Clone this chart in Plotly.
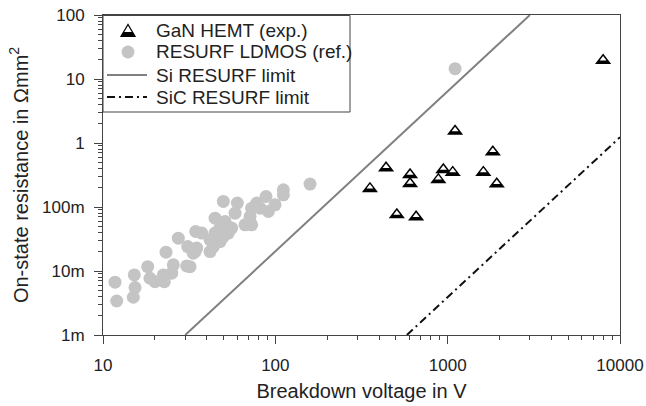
import plotly.graph_objects as go

# GaN HEMT devices: breakdown voltage (V) and on-state resistance (Ohm*mm^2)
gan_v = [354, 439, 507, 605, 605, 656, 883, 944, 1070, 1104, 1611, 1828, 1927, 7980]
gan_r = [0.193, 0.406, 0.0755, 0.319, 0.231, 0.0695, 0.267, 0.382, 0.347, 1.52,
         0.347, 0.723, 0.228, 19.4]

# RESURF LDMOS reference devices
ldmos_v = [11.74, 12.01, 15.19, 15.34, 14.99, 18.17, 18.74, 20.04, 22.69, 22.39,
           25.04, 25.59, 23.21, 27.35, 30.6, 31.98, 31.01, 34.51, 34.2, 37.4,
           159, 111.3, 111.3, 88.3, 99.6, 91.1, 81.5, 78.0, 72.9, 71.3,
           66.7, 72.9, 49.9, 60.2, 58.4, 44.7, 51.1, 47.8, 53.4, 44.7,
           41.8, 47.8, 35.0, 41.8, 33.4, 43.7, 49.9, 55.8, 1104]
ldmos_r = [0.00668, 0.00340, 0.00869, 0.00550, 0.00389, 0.0117, 0.00771, 0.00682, 0.00682, 0.00869,
           0.00924, 0.0125, 0.0197, 0.0326, 0.0120, 0.0117, 0.0241, 0.0414, 0.0201, 0.0391,
           0.228, 0.186, 0.155, 0.146, 0.108, 0.085, 0.096, 0.115, 0.096, 0.071,
           0.0526, 0.0526, 0.122, 0.115, 0.080, 0.067, 0.0593, 0.0468, 0.0391, 0.0391,
           0.0307, 0.0288, 0.0228, 0.0201, 0.0190, 0.0241, 0.0345, 0.0468, 14.5]

# Material limits for RESURF devices
si_v = [30, 3000]
si_r = [1e-3, 100]
sic_v = [580, 10000]
sic_r = [1e-3, 1.23]

x_ticks = [10, 100, 1000, 10000]
x_tick_text = ["10", "100", "1000", "10000"]
y_ticks = [1e-3, 1e-2, 1e-1, 1, 10, 100]
y_tick_text = ["1m", "10m", "100m", "1", "10", "100"]

legend_labels = ["GaN HEMT (exp.)", "RESURF LDMOS (ref.)",
                 "Si RESURF limit", "SiC RESURF limit"]

W, H = 646, 406
M = dict(l=103, r=26, t=15, b=71)
Y_RANGE = [-3, 2]
PW = W - M["l"] - M["r"]
PH = H - M["t"] - M["b"]
px_per_decade = PH / (Y_RANGE[1] - Y_RANGE[0])

FONT = "Liberation Sans, Arial, sans-serif"
INK = "#222222"
AXIS = "#444444"
DOT = "#c4c4c4"
SI_COLOR = "#808080"
SIC_COLOR = "#111111"
SIC_DASH = "8px,4px,2px,4px"


def px(x, y):
    """Pixel position inside the page -> paper coordinates."""
    return (x - M["l"]) / PW, (M["t"] + PH - y) / PH


fig = go.Figure()

fig.add_trace(go.Scatter(
    x=si_v, y=si_r, mode="lines", showlegend=False,
    line=dict(color=SI_COLOR, width=2)))
fig.add_trace(go.Scatter(
    x=sic_v, y=sic_r, mode="lines", showlegend=False,
    line=dict(color=SIC_COLOR, width=2, dash=SIC_DASH)))
fig.add_trace(go.Scatter(
    x=ldmos_v, y=ldmos_r, mode="markers", showlegend=False,
    marker=dict(symbol="circle", size=13, color=DOT, line=dict(width=0))))

# GaN triangles: black body with a white cap over the upper part
fig.add_trace(go.Scatter(
    x=gan_v, y=gan_r, mode="markers", showlegend=False,
    marker=dict(symbol="triangle-up", size=14, color="black", line=dict(width=0))))
cap_shift = 10 ** (1.6 / px_per_decade)
fig.add_trace(go.Scatter(
    x=gan_v, y=[r * cap_shift for r in gan_r], mode="markers", showlegend=False,
    hoverinfo="skip",
    marker=dict(symbol="triangle-up", size=6, color="white", line=dict(width=0))))

# ---- legend box drawn in the upper-left corner of the plot area ----
shapes = []
bx0, by0 = px(103, 112)
bx1, by1 = px(350, 15.5)
shapes.append(dict(type="rect", xref="paper", yref="paper", x0=bx0, y0=by0, x1=bx1, y1=by1,
                   line=dict(color=AXIS, width=1), fillcolor="white", layer="above"))

row_y = [30.5, 52.0, 75.0, 97.0]
icon_x = 128
text_x = 155


def path(points):
    pts = [px(x, y) for x, y in points]
    return "M " + " L ".join(f"{a:.5f},{b:.5f}" for a, b in pts) + " Z"


# triangle icon
ty = row_y[0]
shapes.append(dict(type="path", xref="paper", yref="paper",
                   path=path([(icon_x - 7, ty + 6), (icon_x + 7, ty + 6), (icon_x, ty - 6)]),
                   fillcolor="white", line=dict(color="black", width=1.2), layer="above"))
shapes.append(dict(type="path", xref="paper", yref="paper",
                   path=path([(icon_x - 7, ty + 6), (icon_x + 7, ty + 6),
                              (icon_x + 4.7, ty + 2), (icon_x - 4.7, ty + 2)]),
                   fillcolor="black", line=dict(color="black", width=1), layer="above"))
# circle icon
cx0, cy0 = px(icon_x - 6.5, row_y[1] + 6.5)
cx1, cy1 = px(icon_x + 6.5, row_y[1] - 6.5)
shapes.append(dict(type="circle", xref="paper", yref="paper", x0=cx0, y0=cy0, x1=cx1, y1=cy1,
                   fillcolor=DOT, line=dict(width=0), layer="above"))
# line icons
for yy, color, dash in [(row_y[2], SI_COLOR, "solid"), (row_y[3], SIC_COLOR, SIC_DASH)]:
    lx0, ly = px(107, yy)
    lx1, _ = px(147, yy)
    shapes.append(dict(type="line", xref="paper", yref="paper", x0=lx0, y0=ly, x1=lx1, y1=ly,
                       line=dict(color=color, width=2, dash=dash), layer="above"))

annotations = []
for label, yy in zip(legend_labels, row_y):
    ax_, ay_ = px(text_x, yy)
    annotations.append(dict(text=label, xref="paper", yref="paper", x=ax_, y=ay_,
                            xanchor="left", yanchor="middle", showarrow=False,
                            borderpad=0,
                            font=dict(family=FONT, size=19, color=INK)))

axis_common = dict(
    type="log", showgrid=False, zeroline=False, automargin=False,
    showline=True, linecolor=AXIS, linewidth=1, mirror=True,
    ticks="outside", ticklen=8, tickwidth=1, tickcolor=AXIS,
    tickfont=dict(family=FONT, size=17, color=INK),
    minor=dict(ticks="outside", ticklen=4, tickwidth=1, tickcolor=AXIS,
               dtick="D1", showgrid=False),
)

fig.update_xaxes(
    range=[1, 4], tickvals=x_ticks, ticktext=x_tick_text,
    ticklabelstandoff=7,
    title=dict(text="Breakdown voltage in V", font=dict(family=FONT, size=20, color=INK),
               standoff=9),
    **axis_common)
fig.update_yaxes(
    range=Y_RANGE, tickvals=y_ticks, ticktext=y_tick_text,
    ticklabelstandoff=6,
    title=dict(text="On-state resistance in \u03a9mm<sup>2</sup>",
               font=dict(family=FONT, size=20, color=INK), standoff=8),
    **axis_common)

fig.update_layout(
    width=W, height=H, margin=dict(M, autoexpand=False),
    paper_bgcolor="white", plot_bgcolor="white",
    font=dict(family=FONT, color=INK),
    showlegend=False,
    shapes=shapes, annotations=annotations,
)

fig.write_html("out.html")
